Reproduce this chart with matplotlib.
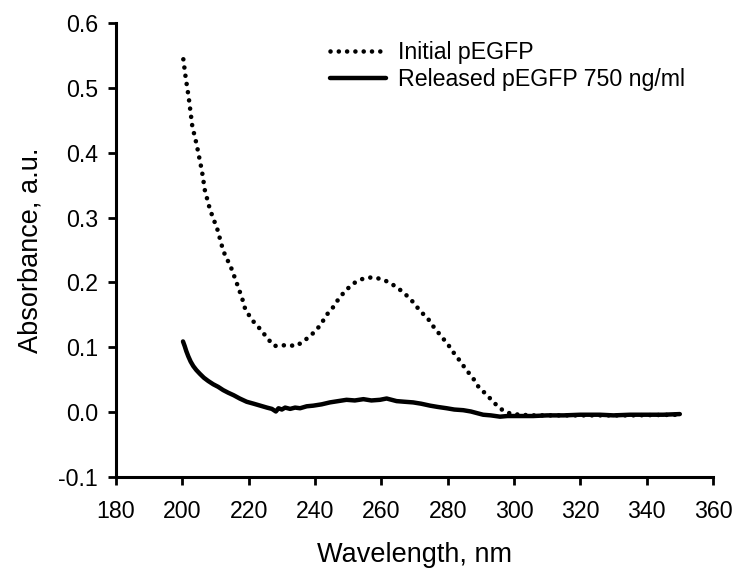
import matplotlib
matplotlib.use("Agg")
import matplotlib.pyplot as plt

plt.rcParams['font.family'] = ['Liberation Sans', 'DejaVu Sans']

# Initial pEGFP (dotted)
initial_x = [200.3, 201.0, 201.9, 203.0, 204.3, 205.9, 206.8, 208.3, 209.3, 210.5, 212.0, 213.0,
             214.4, 216.4, 218.0, 218.9, 220.5, 222.0, 223.7, 225.6, 227.7, 229.9, 232.2, 234.4,
             237.0, 239.5, 241.8, 243.2, 245.5, 247.3, 249.5, 252.1, 254.6, 257.4, 260.1, 262.4,
             265.1, 267.6, 270.1, 271.6, 273.8, 275.7, 277.9, 280.0, 281.9, 283.7, 285.5, 287.7,
             289.3, 291.9, 294.3, 296.8, 299.3, 305.0, 320.0, 335.0, 350.0]
initial_y = [0.544, 0.516, 0.486, 0.441, 0.413, 0.372, 0.342, 0.313, 0.299, 0.283, 0.255, 0.240,
             0.227, 0.199, 0.176, 0.160, 0.146, 0.136, 0.127, 0.114, 0.102, 0.103, 0.103, 0.102,
             0.111, 0.122, 0.135, 0.148, 0.162, 0.176, 0.189, 0.200, 0.206, 0.208, 0.205, 0.200,
             0.191, 0.180, 0.167, 0.156, 0.146, 0.132, 0.118, 0.105, 0.091, 0.079, 0.066, 0.052,
             0.039, 0.026, 0.013, 0.002, -0.003, -0.005, -0.005, -0.005, -0.004]

# Released pEGFP 750 ng/ml (solid)
released_x = [200.2, 200.7, 201.2, 201.8, 202.5, 203.3, 204.2, 205.3, 206.5, 207.8, 209.3, 210.8,
              212.3, 213.8, 215.5, 217.3, 219.4, 221.5, 223.5, 225.5, 227.0, 228.2, 229.0, 230.0,
              231.0, 232.5, 234.0, 235.5, 237.5, 239.5, 242.0, 244.5, 247.0, 249.5, 252.0, 254.6,
              257.0, 259.6, 261.6, 264.6, 267.0, 269.6, 272.0, 274.7, 277.0, 279.7, 282.0, 284.7,
              287.0, 289.2, 290.7, 293.0, 295.8, 298.0, 301.0, 305.8, 310.0, 315.0, 320.0, 325.9,
              330.0, 335.0, 340.0, 345.0, 350.0]
released_y = [0.109, 0.102, 0.094, 0.086, 0.078, 0.071, 0.065, 0.059, 0.053, 0.048, 0.043, 0.039,
              0.034, 0.030, 0.026, 0.021, 0.016, 0.013, 0.010, 0.007, 0.005, 0.001, 0.006, 0.004,
              0.007, 0.005, 0.007, 0.006, 0.009, 0.010, 0.012, 0.015, 0.017, 0.019, 0.018, 0.020,
              0.018, 0.019, 0.021, 0.017, 0.016, 0.015, 0.013, 0.010, 0.008, 0.006, 0.004, 0.003,
              0.001, -0.002, -0.004, -0.005, -0.007, -0.006, -0.006, -0.006, -0.005, -0.005, -0.004,
              -0.004, -0.005, -0.004, -0.004, -0.004, -0.003]

x_ticks = [180, 200, 220, 240, 260, 280, 300, 320, 340, 360]
y_ticks = [-0.1, 0.0, 0.1, 0.2, 0.3, 0.4, 0.5, 0.6]
y_ticklabels = ['-0.1', '0.0', '0.1', '0.2', '0.3', '0.4', '0.5', '0.6']

fig = plt.figure(figsize=(7.37, 5.74), dpi=100)
ax = fig.add_axes([0.1574, 0.169, 0.81, 0.791])

ax.plot(initial_x, initial_y, color='black', lw=3.3, linestyle=(0, (0.01, 1.8)),
        dash_capstyle='round', label='Initial pEGFP')
ax.plot(released_x, released_y, color='black', lw=3.2, solid_capstyle='round',
        solid_joinstyle='round', label='Released pEGFP 750 ng/ml')

ax.set_xlim(180, 360)
ax.set_ylim(-0.1, 0.6)
ax.set_xticks(x_ticks)
ax.set_yticks(y_ticks)
ax.set_yticklabels(y_ticklabels)

for s in ['top', 'right']:
    ax.spines[s].set_visible(False)
for s in ['left', 'bottom']:
    ax.spines[s].set_linewidth(2.2)

ax.tick_params(axis='both', direction='out', length=5.8, width=2.0, labelsize=16.7)
ax.tick_params(axis='y', pad=7)
ax.tick_params(axis='x', pad=10.5)

ax.set_xlabel('Wavelength, nm', fontsize=19.5, labelpad=14)
ax.set_ylabel('Absorbance, a.u.', fontsize=19.5, labelpad=11)

ax.legend(loc='upper left', bbox_to_anchor=(0.343, 0.98), frameon=False, fontsize=16.7,
          handlelength=2.4, handletextpad=0.55, labelspacing=0.15, borderaxespad=0)

fig.savefig('out.png', dpi=100)
